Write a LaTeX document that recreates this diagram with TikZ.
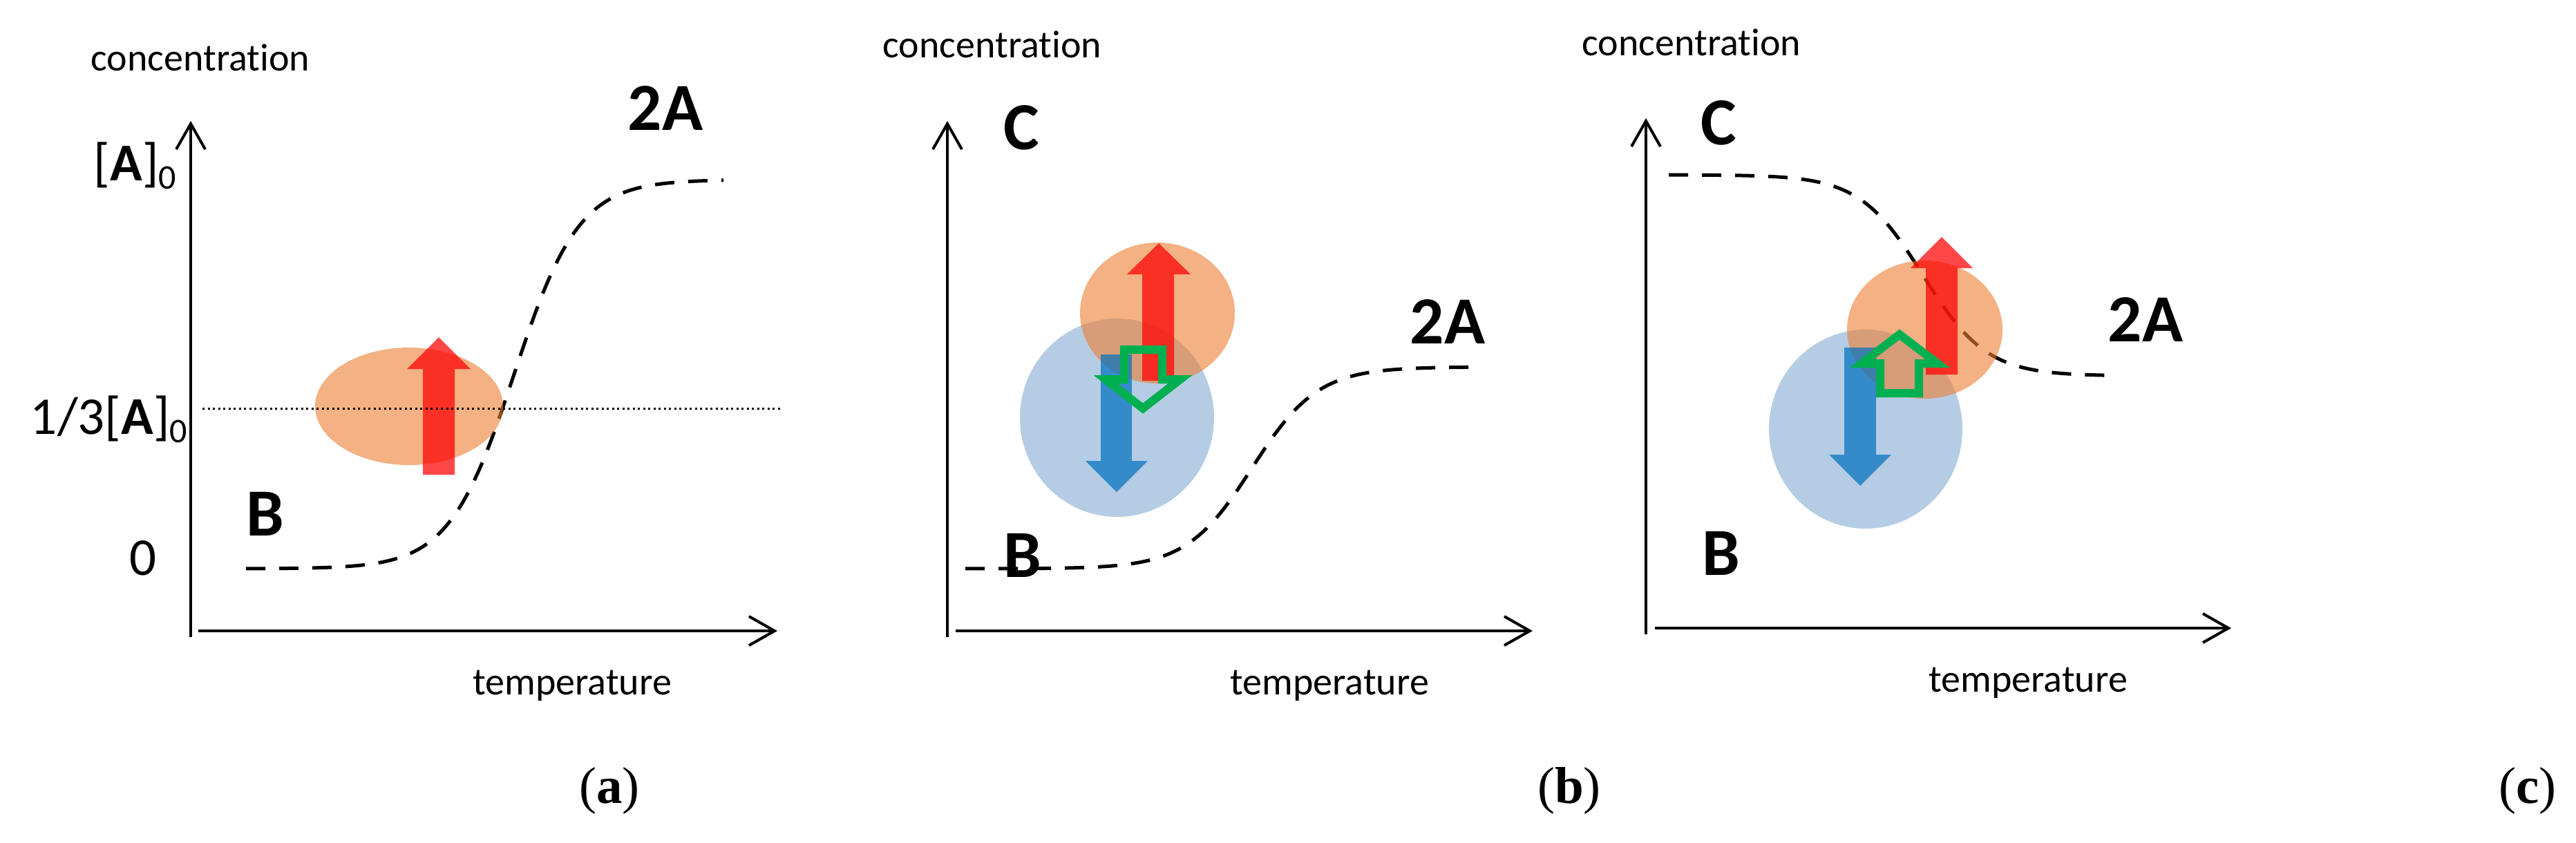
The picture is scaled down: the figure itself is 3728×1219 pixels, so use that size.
\documentclass[tikz,border=0pt]{standalone}
\usepackage{fontspec}
\setmainfont{Carlito}[Ligatures=NoCommon]
\newfontfamily\capfont{Liberation Serif}
\usetikzlibrary{arrows.meta}
\definecolor{orangeB}{RGB}{237,125,48}
\definecolor{blueB}{RGB}{107,155,201}
\definecolor{blueA}{RGB}{0,112,192}
\definecolor{greenA}{RGB}{0,176,80}
\begin{document}
\begin{tikzpicture}[x=0.2pt,y=-0.2pt,
  axisline/.style={line width=0.8pt,-{Straight Barb[length=7.4pt,width=8.4pt,line width=0.8pt]}},
  dashcurve/.style={line width=1pt,dash pattern=on 5.6pt off 4pt},
  dotline/.style={line width=0.6pt,dash pattern=on 0.6pt off 0.9pt},
  orangeblob/.style={fill=orangeB,fill opacity=0.6},
  blueblob/.style={fill=blueB,fill opacity=0.5},
  redarrow/.style={fill=red,fill opacity=0.72},
  bluearrow/.style={fill=blueA,fill opacity=0.7},
  greenarrow/.style={draw=greenA,line width=2.4pt,line join=miter},
  smalltext/.style={inner sep=0pt,font=\fontsize{11.2}{13}\selectfont},
  bigtext/.style={inner sep=0pt,font=\fontsize{19.5}{22}\selectfont\bfseries},
  midtext/.style={inner sep=0pt,font=\fontsize{15.4}{18}\selectfont},
  captext/.style={inner sep=0pt,font=\fontsize{15}{18}\selectfont\capfont}
]
\useasboundingbox (0,0) rectangle (3728,1219);
\newcommand{\subzero}{\raisebox{-2.4pt}{\fontsize{10}{10}\selectfont 0}}
\newcommand{\concword}{concentrat\kern0pt ion}

% ---------- panel (a) ----------
\coordinate (aYb) at (276,922); \coordinate (aYt) at (276,175);
\coordinate (aXl) at (287,913); \coordinate (aXr) at (1125,913);
\draw[dashcurve] plot[domain=356:1047,samples=120] (\x,{823-563/(1+exp(-(\x-744)/47))});
\fill[orangeblob] (592,588) ellipse [x radius=136,y radius=85];
\fill[redarrow] (612,687) -- (612,534) -- (589,534) -- (635,488) -- (681,534) -- (658,534) -- (658,687) -- cycle;
\coordinate (aDl) at (293,591); \coordinate (aDr) at (1131,591);
\draw[dotline] (aDl) -- (aDr);
\draw[axisline] (aYb) -- (aYt);
\draw[axisline] (aXl) -- (aXr);
\node[smalltext,anchor=base] (aconc) at (290,102) {\concword};
\node[smalltext,anchor=base] (atemp) at (828,1005) {temperature};
\node[bigtext,anchor=base] (a2A) at (963,188) {2A};
\node[bigtext,anchor=base] (aB) at (384,775) {B};
\node[midtext,anchor=base east] (aA0) at (256,261) {[\textbf{A}]\subzero};
\node[midtext,anchor=base east] (aA3) at (272,628) {1/3[\textbf{A}]\subzero};
\node[midtext,anchor=base] (azero) at (207,832) {0};
\node[captext,anchor=base] (alab) at (882,1162) {(\textbf{a})};

% ---------- panel (b) ----------
\coordinate (bYb) at (1371,922); \coordinate (bYt) at (1371,175);
\coordinate (bXl) at (1383,913); \coordinate (bXr) at (2218,913);
\draw[dashcurve] plot[domain=1397:2140,samples=120] (\x,{823-292/(1+exp(-(\x-1812)/47.5))});
\fill[blueblob] (1616.5,604.5) ellipse [x radius=140.5,y radius=143.5];
\fill[orangeblob] (1675,453) ellipse [x radius=112,y radius=102];
\fill[bluearrow] (1593,513) -- (1638,513) -- (1638,667) -- (1661,667) -- (1616,712) -- (1571,667) -- (1593,667) -- cycle;
\fill[redarrow] (1653,551) -- (1653,397) -- (1631,397) -- (1677,352) -- (1723,397) -- (1699,397) -- (1699,551) -- cycle;
\draw[greenarrow] (1627,506) -- (1682,506) -- (1682,549) -- (1708,549) -- (1654,591) -- (1600,549) -- (1627,549) -- cycle;
\draw[axisline] (bYb) -- (bYt);
\draw[axisline] (bXl) -- (bXr);
\node[smalltext,anchor=base] (bconc) at (1436,83) {\concword};
\node[smalltext,anchor=base] (btemp) at (1924,1005) {temperature};
\node[bigtext,anchor=base] (b2A) at (2095,497) {2A};
\node[bigtext,anchor=base] (bC) at (1478,216) {C};
\node[bigtext,anchor=base] (bB) at (1480,835) {B};
\node[captext,anchor=base] (blab) at (2271,1162) {(\textbf{b})};

% ---------- panel (c) ----------
\coordinate (cYb) at (2382,918); \coordinate (cYt) at (2382,171);
\coordinate (cXl) at (2395,909); \coordinate (cXr) at (3229,909);
\draw[dashcurve] plot[domain=2415:3059,samples=120] (\x,{253+291/(1+exp(-(\x-2783)/46))});
\fill[blueblob] (2700,621) ellipse [x radius=140,y radius=144];
\fill[orangeblob] (2785.5,477) ellipse [x radius=112.5,y radius=100];
\fill[bluearrow] (2669,503) -- (2715,503) -- (2715,658) -- (2737,658) -- (2692,703) -- (2647,658) -- (2669,658) -- cycle;
\fill[redarrow] (2787,542) -- (2787,388) -- (2765,388) -- (2810,343) -- (2855,388) -- (2833,388) -- (2833,542) -- cycle;
\draw[greenarrow] (2721,569) -- (2777,569) -- (2777,526) -- (2804,526) -- (2749,484) -- (2694,526) -- (2721,526) -- cycle;
\draw[axisline] (cYb) -- (cYt);
\draw[axisline] (cXl) -- (cXr);
\node[smalltext,anchor=base] (cconc) at (2448,80) {\concword};
\node[smalltext,anchor=base] (ctemp) at (2935,1001) {temperature};
\node[bigtext,anchor=base] (c2A) at (3105,494) {2A};
\node[bigtext,anchor=base] (cC) at (2487,209) {C};
\node[bigtext,anchor=base] (cB) at (2491,832) {B};
\node[captext,anchor=base] (clab) at (3658,1162) {(\textbf{c})};
\end{tikzpicture}
\end{document}
